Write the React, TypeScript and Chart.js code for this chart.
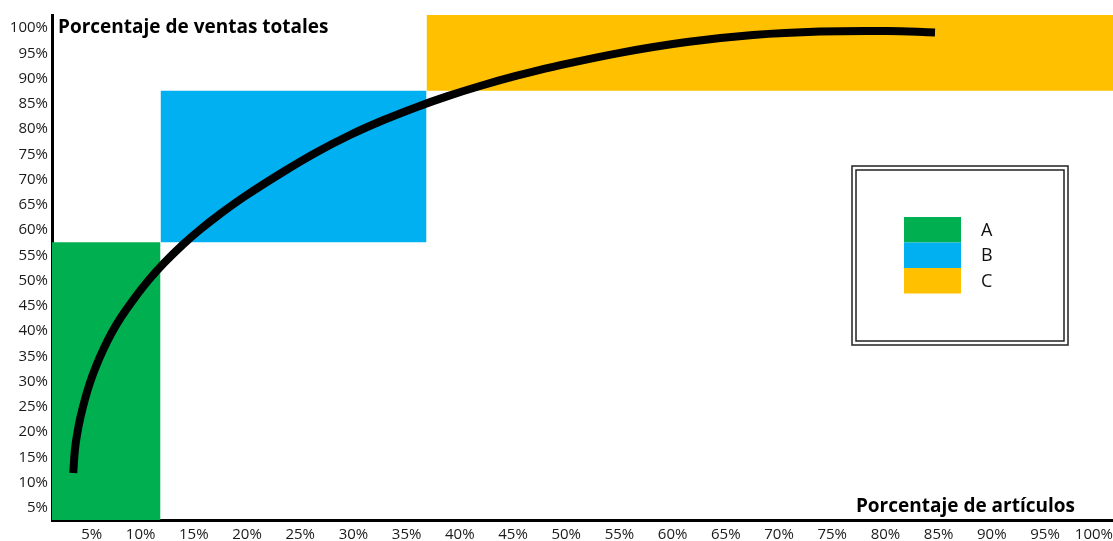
import React, { useEffect, useRef } from 'react';
import { Chart, registerables } from 'chart.js';

Chart.register(...registerables);

// ABC zones
const segmentLabels = ['A', 'B', 'C'];
const segmentColors = ['#00B050', '#00B0F0', '#FFC000'];
const segmentXFrom = [0, 10.2, 35.2];
const segmentXTo = [10.2, 35.2, 100];
const segmentYFrom = [0, 55, 85];
const segmentYTo = [55, 85, 100];

// Cumulative (Pareto) curve: % of items vs % of total sales
const curveX = [2.0, 2.15, 2.38, 2.68, 3.08, 3.56, 4.11, 4.8, 5.6, 6.5, 7.62, 9.09, 10.53, 12.26, 13.87, 15.73, 18.1, 21.71, 24.91, 28.01, 31.11, 34.3, 37.12, 40.23, 43.6, 47.09, 53.38, 59.68, 65.88, 72.18, 78.48, 82.99];
const curveY = [9.31, 13.86, 17.23, 20.4, 23.76, 27.13, 30.3, 33.66, 37.03, 40.2, 43.56, 47.52, 50.89, 54.46, 57.43, 60.5, 64.06, 68.91, 72.87, 76.24, 79.15, 81.8, 83.89, 85.94, 87.93, 89.74, 92.51, 94.65, 96.04, 96.73, 96.83, 96.53];

// Tick labels
const xTickValues = [5, 10, 15, 20, 25, 30, 35, 40, 45, 50, 55, 60, 65, 70, 75, 80, 85, 90, 95, 100];
const yTickValues = [5, 10, 15, 20, 25, 30, 35, 40, 45, 50, 55, 60, 65, 70, 75, 80, 85, 90, 95, 100];

const yAxisTitle = 'Porcentaje de ventas totales';
const xAxisTitle = 'Porcentaje de artículos';

const FONT = '"Open Sans", "DejaVu Sans", sans-serif';

const overlayPlugin = {
  id: 'overlay',
  afterDraw(chart: any) {
    const { ctx, chartArea } = chart;
    const L = chartArea.left;
    const T = chartArea.top;
    ctx.save();
    ctx.fillStyle = '#000';
    ctx.font = `bold 19px ${FONT}`;
    ctx.textBaseline = 'alphabetic';
    ctx.textAlign = 'left';
    ctx.fillText(yAxisTitle, L + 6, T + 18);
    ctx.textAlign = 'right';
    ctx.fillText(xAxisTitle, L + 1023, chartArea.bottom - 8);

    // legend box
    const bx = L + 800;
    const by = T + 151;
    const bw = 216;
    const bh = 179;
    ctx.fillStyle = '#fff';
    ctx.fillRect(bx, by, bw, bh);
    ctx.strokeStyle = '#222';
    ctx.lineWidth = 1.5;
    ctx.strokeRect(bx, by, bw, bh);
    ctx.strokeRect(bx + 4, by + 4, bw - 8, bh - 8);

    const sx = L + 852;
    const sy = T + 202;
    const sw = 57;
    const sh = 25.5;
    ctx.font = `18px ${FONT}`;
    ctx.textAlign = 'left';
    ctx.textBaseline = 'middle';
    segmentLabels.forEach((lab, i) => {
      ctx.fillStyle = segmentColors[i];
      ctx.fillRect(sx, sy + i * sh, sw, sh);
      ctx.fillStyle = '#111';
      ctx.fillText(lab, L + 929, sy + i * sh + sh / 2 + 1);
    });
    ctx.restore();
  },
};

export default function App() {
  const ref = useRef<HTMLCanvasElement>(null);
  useEffect(() => {
    if (!ref.current) return;
    const zoneSets = segmentLabels.map((lab, i) => ({
      type: 'line' as const,
      label: lab,
      data: [
        { x: segmentXFrom[i], y: segmentYTo[i] },
        { x: segmentXTo[i], y: segmentYTo[i] },
      ],
      borderWidth: 0,
      borderColor: 'rgba(0,0,0,0)',
      backgroundColor: segmentColors[i],
      pointRadius: 0,
      tension: 0,
      fill: { value: segmentYFrom[i] },
      order: 2,
    }));
    const chart = new Chart(ref.current, {
      type: 'line',
      data: {
        datasets: [
          {
            label: 'Curva',
            data: curveX.map((x, i) => ({ x, y: curveY[i] })),
            borderColor: '#000',
            borderWidth: 8,
            borderCapStyle: 'butt',
            pointRadius: 0,
            fill: false,
            tension: 0.4,
            order: 0,
          },
          ...zoneSets,
        ] as any,
      },
      options: {
        animation: false,
        responsive: true,
        maintainAspectRatio: false,
        layout: { padding: { top: 15, right: 0, left: 0, bottom: 0 } },
        plugins: { legend: { display: false }, tooltip: { enabled: false } },
        scales: {
          x: {
            type: 'linear',
            min: 0,
            max: 100,
            z: 1,
            grid: { display: false, drawTicks: false },
            border: { display: true, color: '#000', width: 3 },
            afterBuildTicks: (s: any) => {
              s.ticks = xTickValues.map((v) => ({ value: v }));
            },
            afterFit: (s: any) => {
              s.height = 21;
            },
            ticks: {
              autoSkip: false,
              maxRotation: 0,
              align: 'end',
              labelOffset: -3,
              padding: 6,
              color: '#1a1a1a',
              font: { family: FONT, size: 15 },
              callback: (v: any) => `${v}%`,
            },
          },
          y: {
            type: 'linear',
            min: 0,
            max: 100,
            z: 1,
            grid: { display: false, drawTicks: false },
            border: { display: true, color: '#000', width: 3 },
            afterBuildTicks: (s: any) => {
              s.ticks = yTickValues.map((v) => ({ value: v }));
            },
            afterFit: (s: any) => {
              s.width = 52;
            },
            ticks: {
              autoSkip: false,
              labelOffset: 13,
              padding: 4,
              color: '#1a1a1a',
              font: { family: FONT, size: 15 },
              callback: (v: any) => `${v}%`,
            },
          },
        },
      },
      plugins: [overlayPlugin],
    });
    return () => chart.destroy();
  }, []);
  return (
    <div style={{ position: 'fixed', left: 0, top: 0, width: 1122, height: 541, background: '#fff' }}>
      <canvas ref={ref} />
    </div>
  );
}
